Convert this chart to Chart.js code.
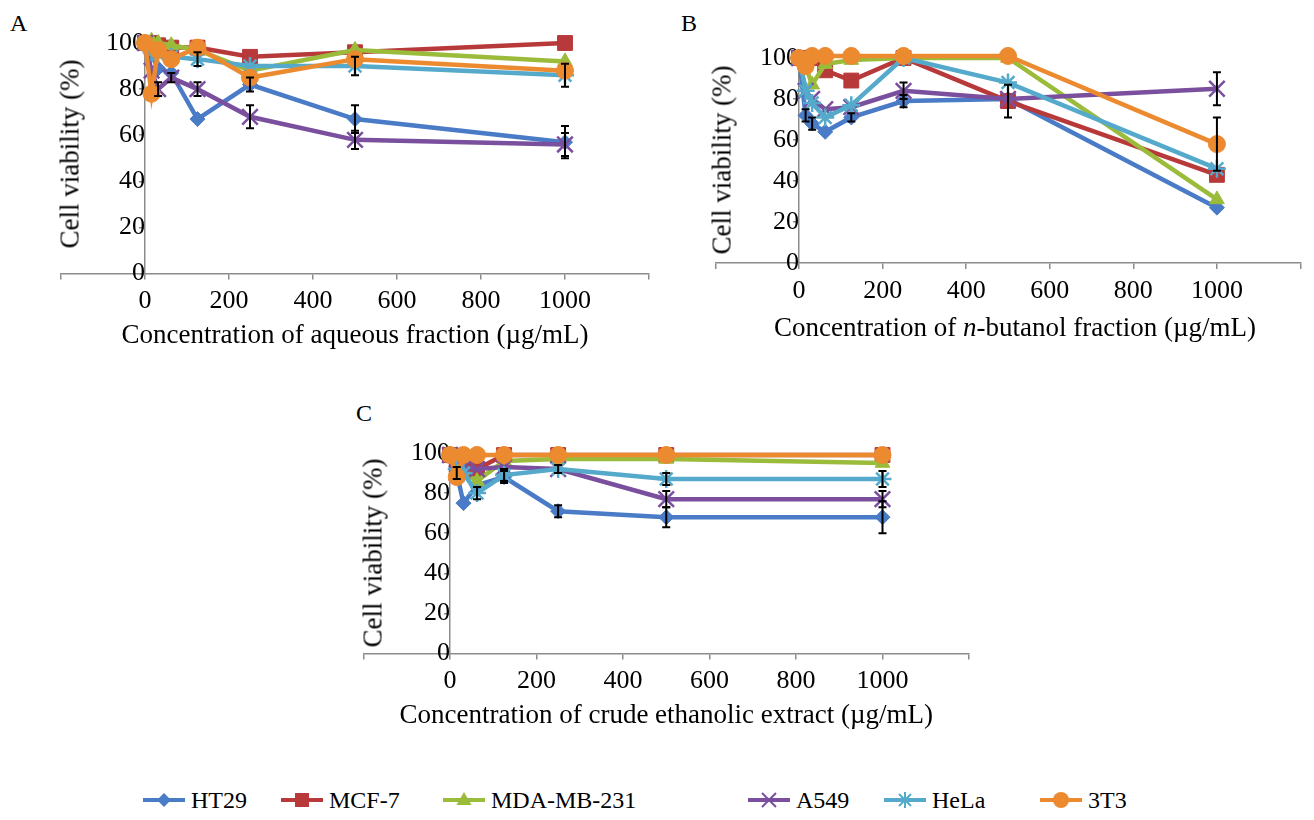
<!DOCTYPE html>
<html>
<head>
<meta charset="utf-8">
<script src="https://cdn.jsdelivr.net/npm/chart.js@4.4.0/dist/chart.umd.min.js"></script>
<style>
  body { margin:0; background:#fff; width:1314px; height:820px; position:relative; overflow:hidden;
         font-family:"Liberation Serif","Times New Roman",serif; color:#000; }
  .panel { position:absolute; }
  .lbl { position:absolute; font-size:24px; line-height:1; }
  .ytitle { position:absolute; font-size:27px; line-height:1; white-space:nowrap;
            transform:translate(-50%,-50%) rotate(-90deg); }
  .xtitle { position:absolute; font-size:27px; line-height:1; white-space:nowrap;
            transform:translate(-50%,-50%); }
  .leg { position:absolute; top:788px; height:24px; }
  .leg span { position:absolute; top:0; font-size:24px; line-height:24px; white-space:nowrap; }
</style>
</head>
<body>

<div class="lbl" style="left:10px;top:11px;">A</div>
<div class="lbl" style="left:681px;top:11px;">B</div>
<div class="lbl" style="left:356px;top:401px;">C</div>

<div class="panel" style="left:0;top:0;width:670px;height:360px;"><canvas id="chartA"></canvas></div>
<div class="panel" style="left:660px;top:0;width:654px;height:360px;"><canvas id="chartB"></canvas></div>
<div class="panel" style="left:300px;top:380px;width:700px;height:360px;"><canvas id="chartC"></canvas></div>

<div class="ytitle" style="left:70px;top:154px;">Cell viability (%)</div>
<div class="ytitle" style="left:722px;top:160px;">Cell viability (%)</div>
<div class="ytitle" style="left:373px;top:553px;">Cell viability (%)</div>
<div class="xtitle" style="left:1015px;top:327px;">Concentration of <i>n</i>-butanol fraction (µg/mL)</div>

<div id="legend"></div>

<script>
// concentrations (µg/mL) and cell lines
const concentrations = [0, 15.6, 31.25, 62.5, 125, 250, 500, 1000];
const cellLines = ["HT29", "MCF-7", "MDA-MB-231", "A549", "HeLa", "3T3"];
const xTickLabels = [0, 200, 400, 600, 800, 1000];

// A: aqueous fraction
const aqueousHT29 = [100, 95, 89, 87, 67, 82, 67, 57];
const aqueousMCF7 = [100, 100, 99, 98, 98, 94, 96, 100];
const aqueousMDA = [100, 101, 100, 99, 97, 88, 97, 92];
const aqueousA549 = [100, 88, 80, 85, 80, 68, 58, 56];
const aqueousHeLa = [100, 96, 95, 94, 93, 90, 90, 86];
const aqueous3T3 = [100, 78, 97, 93, 98, 85, 93, 88];
// error bars (SD)
const aqueousErrHT29 = [0, 0, 0, 0, 0, 3, 6, 7];
const aqueousErrA549 = [0, 0, 3, 2, 3, 5, 4, 5];
const aqueousErrHeLa = [0, 0, 0, 0, 3, 0, 4, 5];

// B: n-butanol fraction
const butanolHT29 = [100, 72, 68, 64, 71, 79, 80, 27];
const butanolMCF7 = [100, 100, 100, 94, 89, 100, 79, 43];
const butanolMDA = [100, 96, 87, 97, 99, 100, 100, 31];
const butanolA549 = [100, 84, 80, 75, 76, 84, 80, 85];
const butanolHeLa = [100, 84, 78, 71, 77, 100, 88, 46];
const butanol3T3 = [100, 96, 101, 101, 101, 101, 101, 58];
const butanolErrHT29 = [0, 3, 3, 0, 2, 3, 0, 0];
const butanolErrMCF7 = [0, 0, 0, 0, 0, 0, 8, 0];
const butanolErrA549 = [0, 0, 0, 0, 0, 4, 0, 8];
const butanolErr3T3 = [0, 0, 0, 0, 0, 0, 0, 13];

// C: crude ethanolic extract
const ethanolHT29 = [99, 90, 75, 84, 88, 71, 68, 68];
const ethanolMCF7 = [99, 92, 94, 92, 99, 99, 99, 99];
const ethanolMDA = [99, 92, 90, 86, 96, 97, 97, 95];
const ethanolA549 = [99, 90, 93, 92, 93, 92, 77, 77];
const ethanolHeLa = [99, 92, 90, 80, 89, 92, 87, 87];
const ethanol3T3 = [99, 88, 99, 99, 99, 99, 99, 99];
const ethanolErrHT29 = [0, 3, 0, 0, 3, 3, 5, 8];
const ethanolErrA549 = [0, 0, 0, 0, 0, 0, 4, 4];
const ethanolErrHeLa = [0, 0, 0, 3, 3, 2, 3, 4];

// series styles
const lineColors = ["#4a7bc6", "#b8393a", "#9bbb3b", "#7a4f9e", "#55aacc", "#ec8a30"];
const pointStyles = ["rectRot", "rect", "triangle", "crossRot", "star", "circle"];
const pointRadii = [7.5, 10.5, 8.5, 11, 9, 8.5];
const font = '"Liberation Serif", "Times New Roman", serif';
const axisColor = "#8c8c8c";

// error bars, drawn through the chart's own scales
const errorBars = {
  id: "errorBars",
  afterDatasetsDraw(chart) {
    const ctx = chart.ctx;
    const xs = chart.scales.x, ys = chart.scales.y;
    ctx.save();
    ctx.strokeStyle = "#000";
    ctx.lineWidth = 2;
    chart.data.datasets.forEach(ds => {
      if (!ds.errors) return;
      ds.errors.forEach((e, i) => {
        if (!e) return;
        const p = ds.data[i];
        const x = xs.getPixelForValue(p.x);
        const y1 = ys.getPixelForValue(p.y + e);
        const y2 = ys.getPixelForValue(p.y - e);
        ctx.beginPath();
        ctx.moveTo(x, y1); ctx.lineTo(x, y2);
        ctx.moveTo(x - 4, y1); ctx.lineTo(x + 4, y1);
        ctx.moveTo(x - 4, y2); ctx.lineTo(x + 4, y2);
        ctx.stroke();
      });
    });
    ctx.restore();
  }
};

function makeChart(id, values, errors, padding, xTitle) {
  const datasets = values.map((vals, i) => ({
    label: cellLines[i],
    data: concentrations.map((c, j) => ({ x: c, y: vals[j] })),
    errors: errors[i],
    borderColor: lineColors[i],
    backgroundColor: lineColors[i],
    borderWidth: 4.5,
    pointStyle: pointStyles[i],
    pointRadius: pointRadii[i],
    pointBackgroundColor: lineColors[i],
    pointBorderColor: lineColors[i],
    pointBorderWidth: (i === 3 || i === 4) ? 2.5 : 1,
    tension: 0,
    clip: false,
    order: values.length - i
  }));

  return new Chart(document.getElementById(id), {
    type: "line",
    data: { datasets: datasets },
    options: {
      responsive: true,
      maintainAspectRatio: false,
      animation: false,
      layout: { padding: padding },
      plugins: { legend: { display: false }, tooltip: { enabled: false } },
      scales: {
        x: {
          type: "linear",
          position: "bottom",
          min: -200, max: 1200,
          ticks: {
            stepSize: 200, autoSkip: false, maxRotation: 0, padding: 9, color: "#000",
            font: { family: font, size: 26, lineHeight: 1 },
            callback: v => xTickLabels.includes(v) ? String(v) : ""
          },
          grid: { drawOnChartArea: false, tickLength: 6, color: axisColor, lineWidth: 1.5 },
          border: { color: axisColor, width: 1.5 },
          title: {
            display: !!xTitle, text: xTitle || "", color: "#000",
            font: { family: font, size: 27, lineHeight: 1.2 },
            padding: { top: -4, bottom: 0 }
          }
        },
        y: {
          type: "linear",
          position: { x: 0 },
          min: 0, max: 100,
          ticks: { stepSize: 20, padding: 4, color: "#000", font: { family: font, size: 26, lineHeight: 1 } },
          grid: { drawOnChartArea: false, tickLength: 5, color: axisColor, lineWidth: 1.5 },
          border: { color: axisColor, width: 1.5 }
        }
      }
    },
    plugins: [errorBars]
  });
}

makeChart("chartA",
  [aqueousHT29, aqueousMCF7, aqueousMDA, aqueousA549, aqueousHeLa, aqueous3T3],
  [aqueousErrHT29, null, null, aqueousErrA549, aqueousErrHeLa, null],
  { left: 61, right: 21, top: 43, bottom: 8 },
  "Concentration of aqueous fraction (µg/mL)");

makeChart("chartB",
  [butanolHT29, butanolMCF7, butanolMDA, butanolA549, butanolHeLa, butanol3T3],
  [butanolErrHT29, butanolErrMCF7, null, butanolErrA549, null, butanolErr3T3],
  { left: 55.5, right: 1, top: 58, bottom: 47 },
  null);

makeChart("chartC",
  [ethanolHT29, ethanolMCF7, ethanolMDA, ethanolA549, ethanolHeLa, ethanol3T3],
  [ethanolErrHT29, null, null, ethanolErrA549, ethanolErrHeLa, null],
  { left: 63.5, right: 31, top: 73, bottom: 8 },
  "Concentration of crude ethanolic extract (µg/mL)");

// shared legend: line + marker, then name
const legendLeft = [143, 281, 443, 748, 884, 1040];
const legend = document.getElementById("legend");
cellLines.forEach((name, i) => {
  const item = document.createElement("div");
  item.className = "leg";
  item.style.left = legendLeft[i] + "px";
  const cv = document.createElement("canvas");
  cv.width = 42; cv.height = 24;
  cv.style.position = "absolute"; cv.style.left = "0"; cv.style.top = "0";
  const ctx = cv.getContext("2d");
  const c = lineColors[i];
  ctx.strokeStyle = c; ctx.fillStyle = c; ctx.lineWidth = 4;
  ctx.beginPath(); ctx.moveTo(0, 12); ctx.lineTo(42, 12); ctx.stroke();
  ctx.beginPath();
  const s = pointStyles[i];
  if (s === "rectRot") {
    ctx.moveTo(21, 5); ctx.lineTo(28, 12); ctx.lineTo(21, 19); ctx.lineTo(14, 12); ctx.closePath(); ctx.fill();
  } else if (s === "rect") {
    ctx.fillRect(14, 5, 14, 14);
  } else if (s === "triangle") {
    ctx.moveTo(21, 4); ctx.lineTo(28.5, 17); ctx.lineTo(13.5, 17); ctx.closePath(); ctx.fill();
  } else if (s === "crossRot") {
    ctx.lineWidth = 2;
    ctx.moveTo(14, 5); ctx.lineTo(28, 19); ctx.moveTo(28, 5); ctx.lineTo(14, 19); ctx.stroke();
  } else if (s === "star") {
    ctx.lineWidth = 2;
    ctx.moveTo(21, 4); ctx.lineTo(21, 20); ctx.moveTo(15, 6); ctx.lineTo(27, 18);
    ctx.moveTo(27, 6); ctx.lineTo(15, 18); ctx.stroke();
  } else {
    ctx.arc(21, 12, 8, 0, Math.PI * 2); ctx.fill();
  }
  item.appendChild(cv);
  const t = document.createElement("span");
  t.textContent = name;
  t.style.left = "48px";
  item.appendChild(t);
  legend.appendChild(item);
});
</script>
</body>
</html>
